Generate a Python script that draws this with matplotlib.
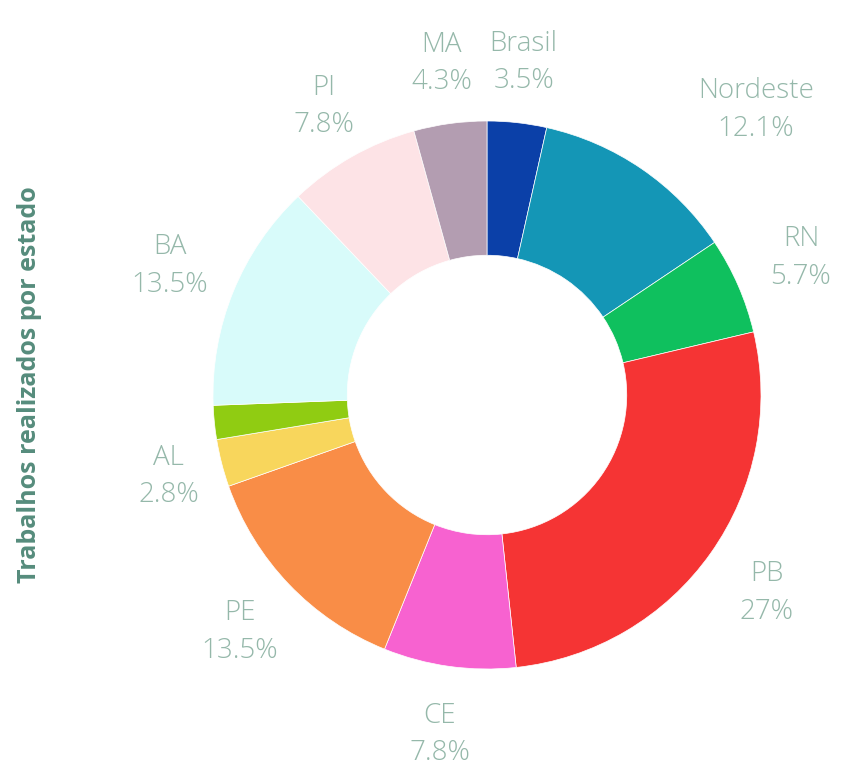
import matplotlib.pyplot as plt
import numpy as np

# share of works per state (clockwise from 12 o'clock)
estados = ['Brasil', 'Nordeste', 'RN', 'PB', 'CE', 'PE', 'AL', '', 'BA', 'PI', 'MA']
percentuais = [3.5, 12.1, 5.7, 27.0, 7.8, 13.5, 2.8, 2.0, 13.5, 7.8, 4.3]
rotulos_pct = ['3.5%', '12.1%', '5.7%', '27%', '7.8%', '13.5%', '2.8%', '', '13.5%', '7.8%', '4.3%']
cores = ['#0b40a8', '#1496b6', '#0fc05e', '#f53434', '#f762d0', '#f98d47',
         '#f8d65c', '#90cc12', '#d8fbfa', '#fde3e6', '#b39db1']

fig = plt.figure(figsize=(8.51, 7.76), dpi=100)
ax = fig.add_axes([0, 0, 1, 1])

R = 274.0  # outer radius in pixels
cx, cy = 487.0, 381.0  # centre in pixels from bottom-left

wedges, _ = ax.pie(percentuais, colors=cores, startangle=90, counterclock=False,
                   radius=1.0, wedgeprops=dict(width=0.49, edgecolor='white', linewidth=0.5))

# labels outside the ring, centred on each wedge's mid angle
dist = {'Nordeste': 1.43, 'Brasil': 1.22, 'MA': 1.22, 'PI': 1.21, 'AL': 1.2}
extra_ang = {'Nordeste': -9}
for w, nome, pct in zip(wedges, estados, rotulos_pct):
    if not nome:
        continue
    ang = (w.theta1 + w.theta2) / 2 + extra_ang.get(nome, 0)
    d = dist.get(nome, 1.25)
    x = d * np.cos(np.radians(ang))
    y = d * np.sin(np.radians(ang))
    ax.text(x, y, f'{nome}\n{pct}', ha='center', va='center', fontsize=20,
            family='Open Sans', fontweight='light', color='#95b8aa', linespacing=1.45)

ax.set_xlim(-cx / R, (851 - cx) / R)
ax.set_ylim(-cy / R, (776 - cy) / R)
ax.set_aspect('auto')
ax.axis('off')

fig.text(0.035, 0.504, 'Trabalhos realizados por estado', rotation=90,
         ha='center', va='center', fontsize=18, fontweight='bold',
         family='Open Sans', color='#568c7c')

fig.savefig('out.png', dpi=100)
